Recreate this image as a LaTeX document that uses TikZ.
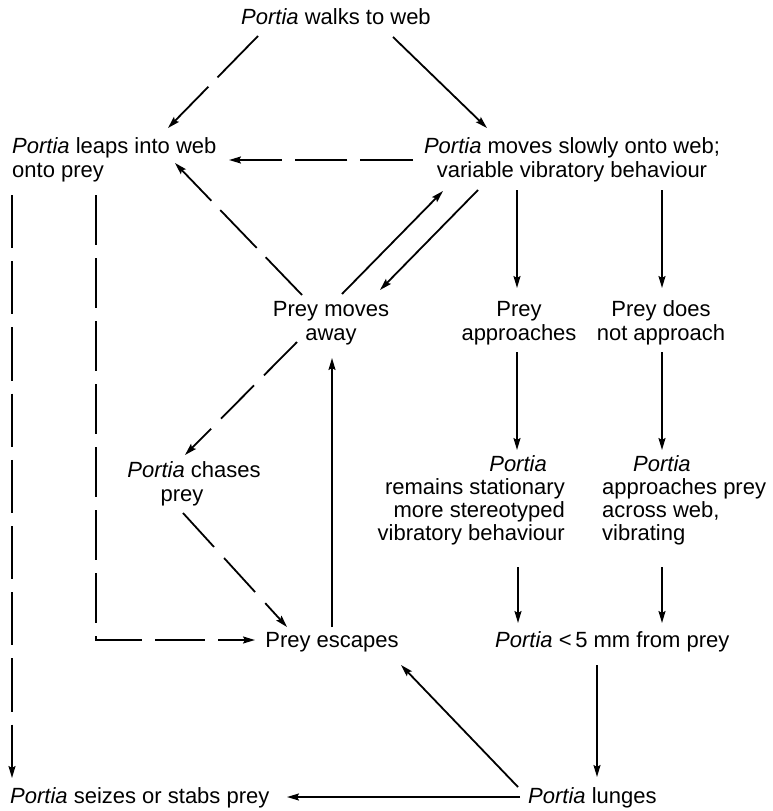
\documentclass[tikz,border=0pt]{standalone}
\usepackage{fontspec}
\setmainfont{Liberation Sans}
\usetikzlibrary{arrows.meta,calc}
\tikzset{
  txt/.style={inner sep=0pt, font=\fontsize{22}{24}\selectfont},
  ln/.style={line width=1.8pt},
  arr/.style={ln, -{Stealth[length=12pt,width=7pt,inset=2pt]}},
}
\begin{document}
\begin{tikzpicture}[x=1pt,y=-1pt]
\useasboundingbox[fill=white] (0,0) rectangle (773,811);

% nodes (base anchor = baseline of the last line)
\node[txt, anchor=base] (walk) at (336,24) {\textit{Portia} walks to web};
\node[txt, anchor=base west, align=left] (leap) at (12,177) {\textit{Portia} leaps into web\\onto prey};
\node[txt, anchor=base, align=center] (slow) at (572,177) {\textit{Portia} moves slowly onto web;\\variable vibratory behaviour};
\node[txt, anchor=base, align=center] (away) at (331,340) {Prey moves\\away};
\node[txt, anchor=base, align=center] (appr) at (519,340) {Prey\\approaches};
\node[txt, anchor=base, align=center] (notap) at (661,340) {Prey does\\not approach};
\node[txt, anchor=base, align=center] (chase) at (194,501) {\textit{Portia} chases\\prey\hspace*{24pt}};
\node[txt, anchor=base east, align=right, font=\fontsize{22}{23}\selectfont] (stay) at (565,540) {\textit{Portia}\hspace*{18pt}\\remains stationary\\more stereotyped\\vibratory behaviour};
\node[txt, anchor=base west, align=left, font=\fontsize{22}{23}\selectfont] (go) at (602,540) {\hspace*{31pt}\textit{Portia}\\approaches prey\\across web,\\vibrating};
\node[txt, anchor=base] (esc) at (332,647) {Prey escapes};
\node[txt, anchor=base west] (near) at (495,647) {\textit{Portia} <\,5 mm from prey};
\node[txt, anchor=base west] (lunge) at (528,803) {\textit{Portia} lunges};
\node[txt, anchor=base west] (seize) at (10,803) {\textit{Portia} seizes or stabs prey};

% solid connectors
\draw[arr] ($(walk.base)+(57,13)$) -- ($(slow.base)+(-85,-49)$);
\draw[arr] ($(away.base)+(11,-46)$) -- ($(slow.base)+(-129,14)$);
\draw[arr] ($(slow.base)+(-94,13)$) -- ($(away.base)+(49,-50)$);
\draw[arr] ($(slow.base)+(-55,13)$) -- ($(appr.base)+(-2,-52)$);
\draw[arr] ($(slow.base)+(90,13)$) -- ($(notap.base)+(1,-52)$);
\draw[arr] ($(appr.base)+(-2,12)$) -- ($(stay.base east)+(-48,-90)$);
\draw[arr] ($(notap.base)+(1,12)$) -- ($(go.base west)+(60,-90)$);
\draw[arr] ($(esc.base)+(0,-20)$) -- ($(away.base)+(1,18)$);
\draw[arr] ($(stay.base east)+(-47,27)$) -- ($(near.base west)+(23,-24)$);
\draw[arr] ($(go.base west)+(60,27)$) -- ($(near.base west)+(167,-24)$);
\draw[arr] ($(near.base west)+(102,18)$) -- ($(lunge.base west)+(69,-26)$);
\draw[arr] ($(lunge.base west)+(-10,-16)$) -- ($(esc.base)+(69,18)$);
\draw[arr] ($(lunge.base west)+(-8,-6)$) -- ($(seize.base west)+(277,-6)$);

% dashed connectors
\draw[arr, dash pattern=on 57.9pt off 13pt] ($(walk.base)+(-78,12)$) -- ($(leap.base west)+(156,-49)$);
\draw[arr, dash pattern=on 52.7pt off 13pt] ($(slow.base)+(-159,-17)$) -- ($(leap.base west)+(217,-17)$);
\draw[arr, dash pattern=on 52.4pt off 13pt] ($(away.base)+(-29,-45)$) -- ($(leap.base west)+(163,-14)$);
\draw[arr, dash pattern=on 47pt off 14pt] ($(away.base)+(-34,2)$) -- ($(chase.base)+(-9,-46)$);
\draw[arr, dash pattern=on 46pt off 15pt] ($(chase.base)+(-11,12)$) -- ($(esc.base)+(-45,-20)$);
\draw[arr, dash pattern=on 53.2pt off 13pt] ($(leap.base west)+(0,18)$) -- ($(seize.base west)+(2,-25)$);
\draw[arr, dash pattern=on 50pt off 13pt] ($(leap.base west)+(84,18)$) |- ($(esc.base)+(-77,-7)$);
\end{tikzpicture}
\end{document}
